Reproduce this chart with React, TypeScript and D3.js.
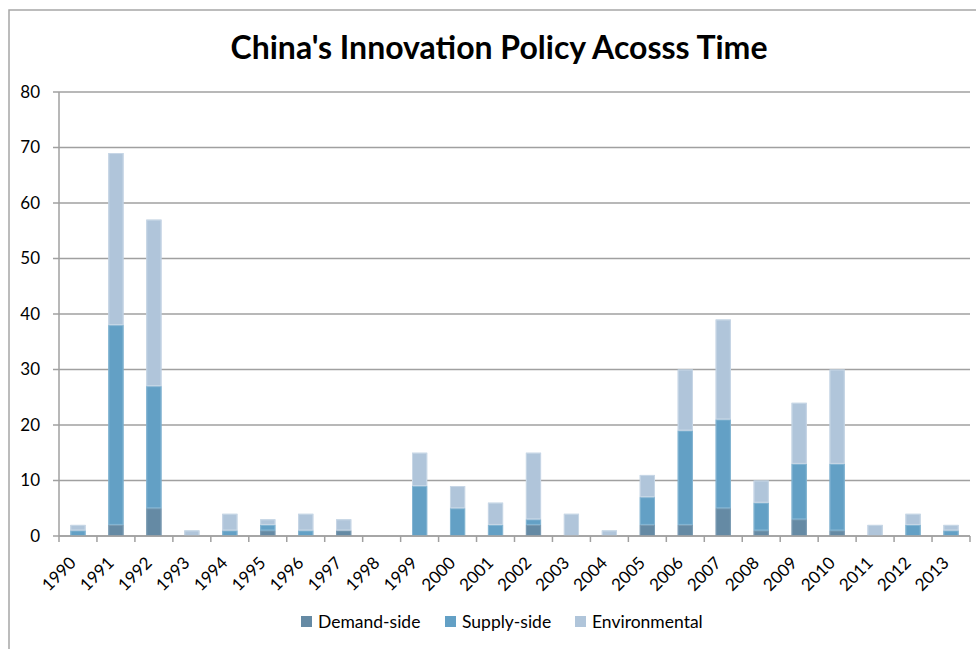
import * as d3 from 'd3';

const years = [
  '1990', '1991', '1992', '1993', '1994', '1995', '1996', '1997', '1998', '1999', '2000', '2001',
  '2002', '2003', '2004', '2005', '2006', '2007', '2008', '2009', '2010', '2011', '2012', '2013',
];
const demandSide = [0, 2, 5, 0, 0, 1, 0, 1, 0, 0, 0, 0, 2, 0, 0, 2, 2, 5, 1, 3, 1, 0, 0, 0];
const supplySide = [1, 36, 22, 0, 1, 1, 1, 0, 0, 9, 5, 2, 1, 0, 0, 5, 17, 16, 5, 10, 12, 0, 2, 1];
const environmental = [1, 31, 30, 1, 3, 1, 3, 2, 0, 6, 4, 4, 12, 4, 1, 4, 11, 18, 4, 11, 17, 2, 2, 1];
const yTicks = [0, 10, 20, 30, 40, 50, 60, 70, 80];

const seriesNames = ['Demand-side', 'Supply-side', 'Environmental'];
const colors = ['#658AA4', '#63A0C5', '#B0C5DA'];
const edgeColors = ['#7D9DB4', '#86B6D3', '#C8D7E6'];

const W = 976;
const H = 649;
const margin = { top: 92, right: 6, bottom: 113, left: 59 };
const font = 'Lato, "Open Sans", sans-serif';

export default function App() {
  const rows = years.map((y, i) => ({
    year: y,
    d: demandSide[i],
    s: supplySide[i],
    e: environmental[i],
  }));
  const stack = d3.stack<any>().keys(['d', 's', 'e']);
  const layers = stack(rows);

  const x = d3
    .scaleBand<string>()
    .domain(years)
    .range([margin.left, W - margin.right])
    .paddingInner(0.6)
    .paddingOuter(0.3);
  const y = d3.scaleLinear().domain([0, 80]).range([H - margin.bottom, margin.top]);

  const step = x.step();
  const x0 = margin.left;
  const x1 = W - margin.right;
  const yBase = y(0);

  const legendItems = [
    { x: 301, label: seriesNames[0] },
    { x: 445, label: seriesNames[1] },
    { x: 575, label: seriesNames[2] },
  ];

  return (
    <svg
      width={W}
      height={H}
      style={{ position: 'absolute', left: 0, top: 0, display: 'block', background: '#fff' }}
      fontFamily={font}
    >
      <rect x={9} y={10} width={W + 10} height={H + 10} fill="#fff" stroke="#A6A6A6" strokeWidth={1.5} />

      <text x={499} y={59} textAnchor="middle" fontSize={32} fontWeight="bold" fill="#000">
        China's Innovation Policy Acosss Time
      </text>

      {/* gridlines + y axis */}
      {yTicks.map((t) => (
        <g key={t}>
          <line x1={x0 - 6} x2={x1} y1={y(t)} y2={y(t)} stroke="#A0A0A0" strokeWidth={1.5} />
          <text x={40} y={y(t)} dy="0.35em" textAnchor="end" fontSize={17} fill="#000">
            {t}
          </text>
        </g>
      ))}
      <line x1={x0} x2={x0} y1={y(80)} y2={yBase} stroke="#A0A0A0" strokeWidth={1.5} />

      {/* bars */}
      {layers.map((layer, li) => (
        <g key={li}>
          {layer.map((seg, i) => {
            const h = y(seg[0]) - y(seg[1]);
            if (h <= 0) return null;
            const bx = x(years[i]) as number;
            return (
              <g key={i}>
                <rect x={bx} y={y(seg[1])} width={x.bandwidth()} height={h} fill={colors[li]} />
                <rect
                  x={bx + 0.5}
                  y={y(seg[1]) + 0.5}
                  width={x.bandwidth() - 1}
                  height={h - 1}
                  fill="none"
                  stroke={edgeColors[li]}
                  strokeWidth={1}
                />
              </g>
            );
          })}
        </g>
      ))}

      {/* x axis */}
      <line x1={x0} x2={x1} y1={yBase} y2={yBase} stroke="#A0A0A0" strokeWidth={1.5} />
      {d3.range(years.length + 1).map((i) => (
        <line
          key={i}
          x1={x0 + i * step}
          x2={x0 + i * step}
          y1={yBase}
          y2={yBase + 6}
          stroke="#A0A0A0"
          strokeWidth={1.5}
        />
      ))}
      {years.map((yr) => {
        const cx = (x(yr) as number) + x.bandwidth() / 2;
        return (
          <text
            key={yr}
            transform={`translate(${cx - 1},${yBase + 28}) rotate(-45)`}
            textAnchor="end"
            fontSize={17}
            fill="#000"
          >
            {yr}
          </text>
        );
      })}

      {/* legend */}
      {legendItems.map((it, i) => (
        <g key={it.label}>
          <rect x={it.x} y={616} width={11} height={11} fill={colors[i]} />
          <text x={it.x + 17} y={622} dy="0.35em" fontSize={17.5} fill="#000">
            {it.label}
          </text>
        </g>
      ))}
    </svg>
  );
}
